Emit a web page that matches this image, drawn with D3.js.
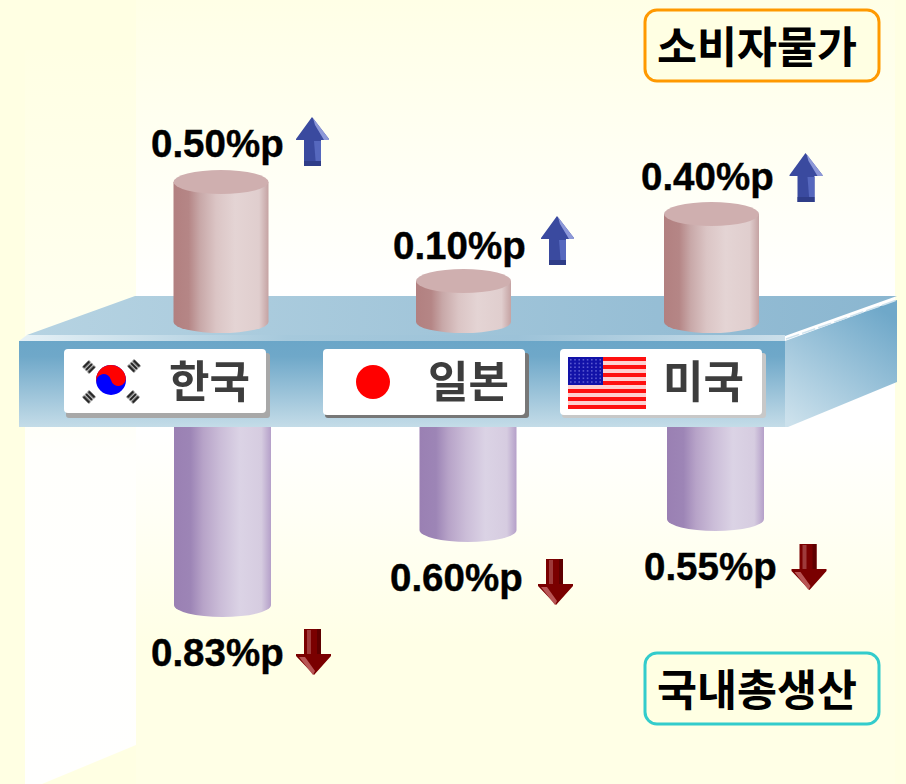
<!DOCTYPE html>
<html><head><meta charset="utf-8">
<script src="https://cdn.jsdelivr.net/npm/d3@7/dist/d3.min.js"></script>
<style>html,body{margin:0;padding:0;background:#FFFFE3;overflow:hidden}svg{display:block}</style>
</head><body><svg id="c" width="906" height="784"></svg>
<script>
const categories = ["한국","일본","미국"];
const cpiValues = [0.50,0.10,0.40];
const gdpValues = [0.83,0.60,0.55];
const unit = "%p";
const cpiTitle = "소비자물가";
const gdpTitle = "국내총생산";

const svg = d3.select("#c");
const defs = svg.append("defs");
function grad(id, stops, x1=0,y1=0,x2=1,y2=0){
  const g = defs.append("linearGradient").attr("id",id).attr("x1",x1).attr("y1",y1).attr("x2",x2).attr("y2",y2);
  stops.forEach(([o,c])=>g.append("stop").attr("offset",o).attr("stop-color",c));
}
grad("panel",[[0,"#FFFFE6"],[0.38,"#FFFFFF"],[0.55,"#FFFFFF"],[0.82,"#FFFFE6"],[1,"#FFFFE6"]],0,0,0,1);
grad("wall",[[0,"#FFFFE4"],[0.4,"#FFFFF0"],[0.55,"#FFFFFC"],[1,"#FFFFFE"]],0,0,0,1);
grad("top",[[0,"#B6D3E2"],[1,"#8AB6D0"]]);
grad("edge",[[0,"#E6F1F6"],[0.35,"#A6C9DC"],[0.65,"#9CC2D8"],[1,"#CBDFEA"]]);
grad("front",[[0,"#6BA6C8"],[0.18,"#6FA8C9"],[1,"#C4DCE8"]],0,0,0,1);
grad("side",[[0,"#6FA8C9"],[1,"#CCE1EC"]],0.75,0,0.1,1);
grad("pink",[[0,"#B28080"],[0.16,"#B58686"],[0.28,"#C8A8A8"],[0.45,"#DBC5C5"],[0.65,"#E4D4D4"],[0.9,"#E0CECE"],[1,"#C5A3A3"]]);
grad("purple",[[0,"#9A80B3"],[0.17,"#9D85B6"],[0.3,"#B7A3C8"],[0.48,"#CBBDD8"],[0.68,"#DBD3E5"],[0.9,"#D6CCE0"],[1,"#B5A0C9"]]);
const soft = defs.append("filter").attr("id","soft").attr("x","-5%").attr("y","-5%").attr("width","110%").attr("height","110%");
soft.append("feGaussianBlur").attr("stdDeviation",0.7);

// background
svg.append("rect").attr("width",906).attr("height",784).attr("fill","#FFFFE3");
svg.append("rect").attr("x",136).attr("y",0).attr("width",759).attr("height",784).attr("fill","url(#panel)");
svg.append("polygon").attr("points","25,50 136,50 136,745 42,784 25,784").attr("fill","url(#wall)");

// scales (the picture's bars are not strictly proportional, so they are piecewise)
const xUp = d3.scaleOrdinal(categories,[221,463.5,711.5]);
const xDown = d3.scaleOrdinal(categories,[222.5,468,715.5]);
const yUp = d3.scaleLinear().domain([0.1,0.4,0.5]).range([281,214,182]);
const yDown = d3.scaleLinear().domain([0.55,0.6,0.83]).range([519,530,605]);
const upBase = 322, downBase = 427;
const upW = 95, downW = 97, upRy = 12, botRy = 11;

// lower cylinders are behind the shelf
svg.append("g").selectAll("path").data(categories).join("path")
  .attr("fill","url(#purple)")
  .attr("d",(c,i)=>{
    const x=xDown(c)-downW/2, y=yDown(gdpValues[i]);
    return `M${x},${downBase-5}H${x+downW}V${y}A${downW/2},${botRy+1} 0 0 1 ${x},${y}Z`;
  });

// shelf
svg.append("polygon").attr("points","27,335 135,296 897,296 785,336").attr("fill","url(#top)");
svg.append("polygon").attr("points","19,341 27,335 785,335 785,341").attr("fill","url(#edge)");
svg.append("polygon").attr("points","785,341 897,300 897,382 788,427 785,427").attr("fill","url(#side)");
svg.append("polyline").attr("points","786,339 897,300").attr("fill","none").attr("stroke","#CFE3EE").attr("stroke-width",1.5).attr("stroke-dasharray","14 3");
svg.append("rect").attr("x",19).attr("y",341).attr("width",766).attr("height",86).attr("fill","url(#front)");

// upper cylinders
const up = svg.append("g").selectAll("g").data(categories).join("g");
up.append("path").attr("fill","url(#pink)").attr("d",(c,i)=>{
  const x=xUp(c)-upW/2, y=yUp(cpiValues[i]);
  return `M${x},${y}H${x+upW}V${upBase}A${upW/2},${botRy} 0 0 1 ${x},${upBase}Z`;
});
up.append("ellipse").attr("cx",xUp).attr("cy",(c,i)=>yUp(cpiValues[i])).attr("rx",upW/2).attr("ry",upRy).attr("fill","#CFAFAF");

// country plates
const plateX = d3.scaleOrdinal(categories,[64,323,560]);
const plateW = 202, plateH = 66, plateY = 349;
const plates = svg.append("g").selectAll("g").data(categories).join("g")
  .attr("transform",c=>`translate(${plateX(c)},${plateY})`);
plates.append("rect").attr("x",2).attr("y",4).attr("width",plateW+2).attr("height",plateH-1).attr("rx",3)
  .attr("fill",(c,i)=>["#A8A8A8","#777777","#C8C8C8"][i]);
plates.append("rect").attr("width",plateW).attr("height",(c,i)=>i===0?plateH-2:plateH).attr("rx",4).attr("fill","#fff");
const plateTextX = d3.scaleOrdinal(categories,[105,105,103]);
plates.append("text").text(c=>c).attr("x",plateTextX).attr("y",49)
  .attr("font-family","'Noto Sans CJK KR'").attr("font-weight",700).attr("font-size",44)
  .attr("fill","#3c3c3c").attr("filter","url(#soft)");

// Korea flag
const kr = plates.filter(c=>c==="한국").append("g").attr("transform","translate(47,31)");
kr.append("circle").attr("r",15).attr("fill","#0000FF");
kr.append("path").attr("fill","#FF0000").attr("transform","rotate(-12)")
  .attr("d","M-15,0A15,15 0 0 1 15,0A7.5,7.5 0 0 1 0,0A7.5,7.5 0 0 0 -15,0Z");
[[-22,-13,-45],[23,-14,45],[-22,17,45],[22,17,-45]].forEach(([x,y,r])=>{
  const t = kr.append("g").attr("transform",`translate(${x},${y}) rotate(${r})`).attr("filter","url(#soft)");
  [-3.6,0,3.6].forEach(d=>t.append("rect").attr("x",-4.5).attr("y",d-1.3).attr("width",9).attr("height",2.6).attr("fill","#222"));
});
// Japan flag
plates.filter(c=>c==="일본").append("circle").attr("cx",50).attr("cy",33).attr("r",17).attr("fill","#FF0000");
// US flag
const us = plates.filter(c=>c==="미국").append("g").attr("transform","translate(8,8)");
d3.range(13).forEach(i=>{
  us.append("rect").attr("x",0).attr("y",i*4).attr("width",78).attr("height",4)
    .attr("fill",i%2===0?"#FF1010":"#FFD0D0");
});
us.append("rect").attr("width",35).attr("height",28).attr("fill","#1212A8");
d3.range(7).forEach(r=>d3.range(8).forEach(k=>{
  us.append("rect").attr("x",2+k*4.2).attr("y",2+r*3.7).attr("width",1.6).attr("height",1.6).attr("fill","#5A5AD0");
}));

// value labels
const fmt = d3.format(".2f");
const labelAttrs = s => s.attr("font-family","'Liberation Sans'").attr("font-weight",700).attr("font-size",38.5)
  .attr("fill","#000").attr("stroke","#000").attr("stroke-width",0.4);
const upLabelX = d3.scaleOrdinal(categories,[151,393,641]);
const downLabelX = d3.scaleOrdinal(categories,[151,390,644]);
svg.append("g").selectAll("text").data(categories).join("text")
  .text((c,i)=>fmt(cpiValues[i])+unit).attr("x",upLabelX)
  .attr("y",(c,i)=>yUp(cpiValues[i])-12-[13,10,12][i]).call(labelAttrs);
svg.append("g").selectAll("text").data(categories).join("text")
  .text((c,i)=>fmt(gdpValues[i])+unit).attr("x",downLabelX)
  .attr("y",(c,i)=>yDown(gdpValues[i])+12+49).call(labelAttrs);

// arrows
const upArrowX = d3.scaleOrdinal(categories,[312,557,805.5]);
const upArrowDy = d3.scaleOrdinal(categories,[-65,-65,-61]);
const up1 = svg.append("g").selectAll("g").data(categories).join("g")
  .attr("transform",(c,i)=>`translate(${upArrowX(c)},${yUp(cpiValues[i])+upArrowDy(c)})`);
up1.append("path").attr("fill","#3A4A9F").attr("d","M0,0L17,22V23H9V49H-8V23H-16V22Z");
up1.append("path").attr("fill","#5668BE").attr("d","M2,24H9V49H4Z");
up1.append("path").attr("fill","#8D98D8").attr("d","M1,1L17,22V23H12L3,8Z");
up1.append("path").attr("fill","#2F3D88").attr("d","M-8,44H9V49H-8Z");

const downArrowX = d3.scaleOrdinal(categories,[313,555,808.5]);
const downArrowDy = d3.scaleOrdinal(categories,[24,29,25]);
const dn = svg.append("g").selectAll("g").data(categories).join("g")
  .attr("transform",(c,i)=>`translate(${downArrowX(c)},${yDown(gdpValues[i])+downArrowDy(c)})`);
dn.append("path").attr("fill","#7A0000").attr("d","M-9,0H8V25H18V27L1,46L-17,27V25H-9Z");
dn.append("path").attr("fill","#9E3A3A").attr("d","M-6,1H-2V25H-6Z");
dn.append("path").attr("fill","#5E0000").attr("d","M4,0H8V25H4Z");
dn.append("path").attr("fill","#B85555").attr("d","M-14,28H-8L2,42L0,46Z");

// legend boxes
const legends = [[cpiTitle,"#FF9900",9],[gdpTitle,"#33CCCC",652]];
const lg = svg.append("g").selectAll("g").data(legends).join("g");
lg.append("rect").attr("x",645).attr("y",d=>d[2]+1).attr("width",234).attr("height",71).attr("rx",12)
  .attr("fill","#FFFFE3").attr("stroke",d=>d[1]).attr("stroke-width",3);
lg.append("text").text(d=>d[0]).attr("x",757).attr("y",d=>d[2]+54).attr("text-anchor","middle")
  .attr("font-family","'Noto Sans CJK KR'").attr("font-weight",700).attr("font-size",43.5).attr("fill","#000");
</script></body></html>
